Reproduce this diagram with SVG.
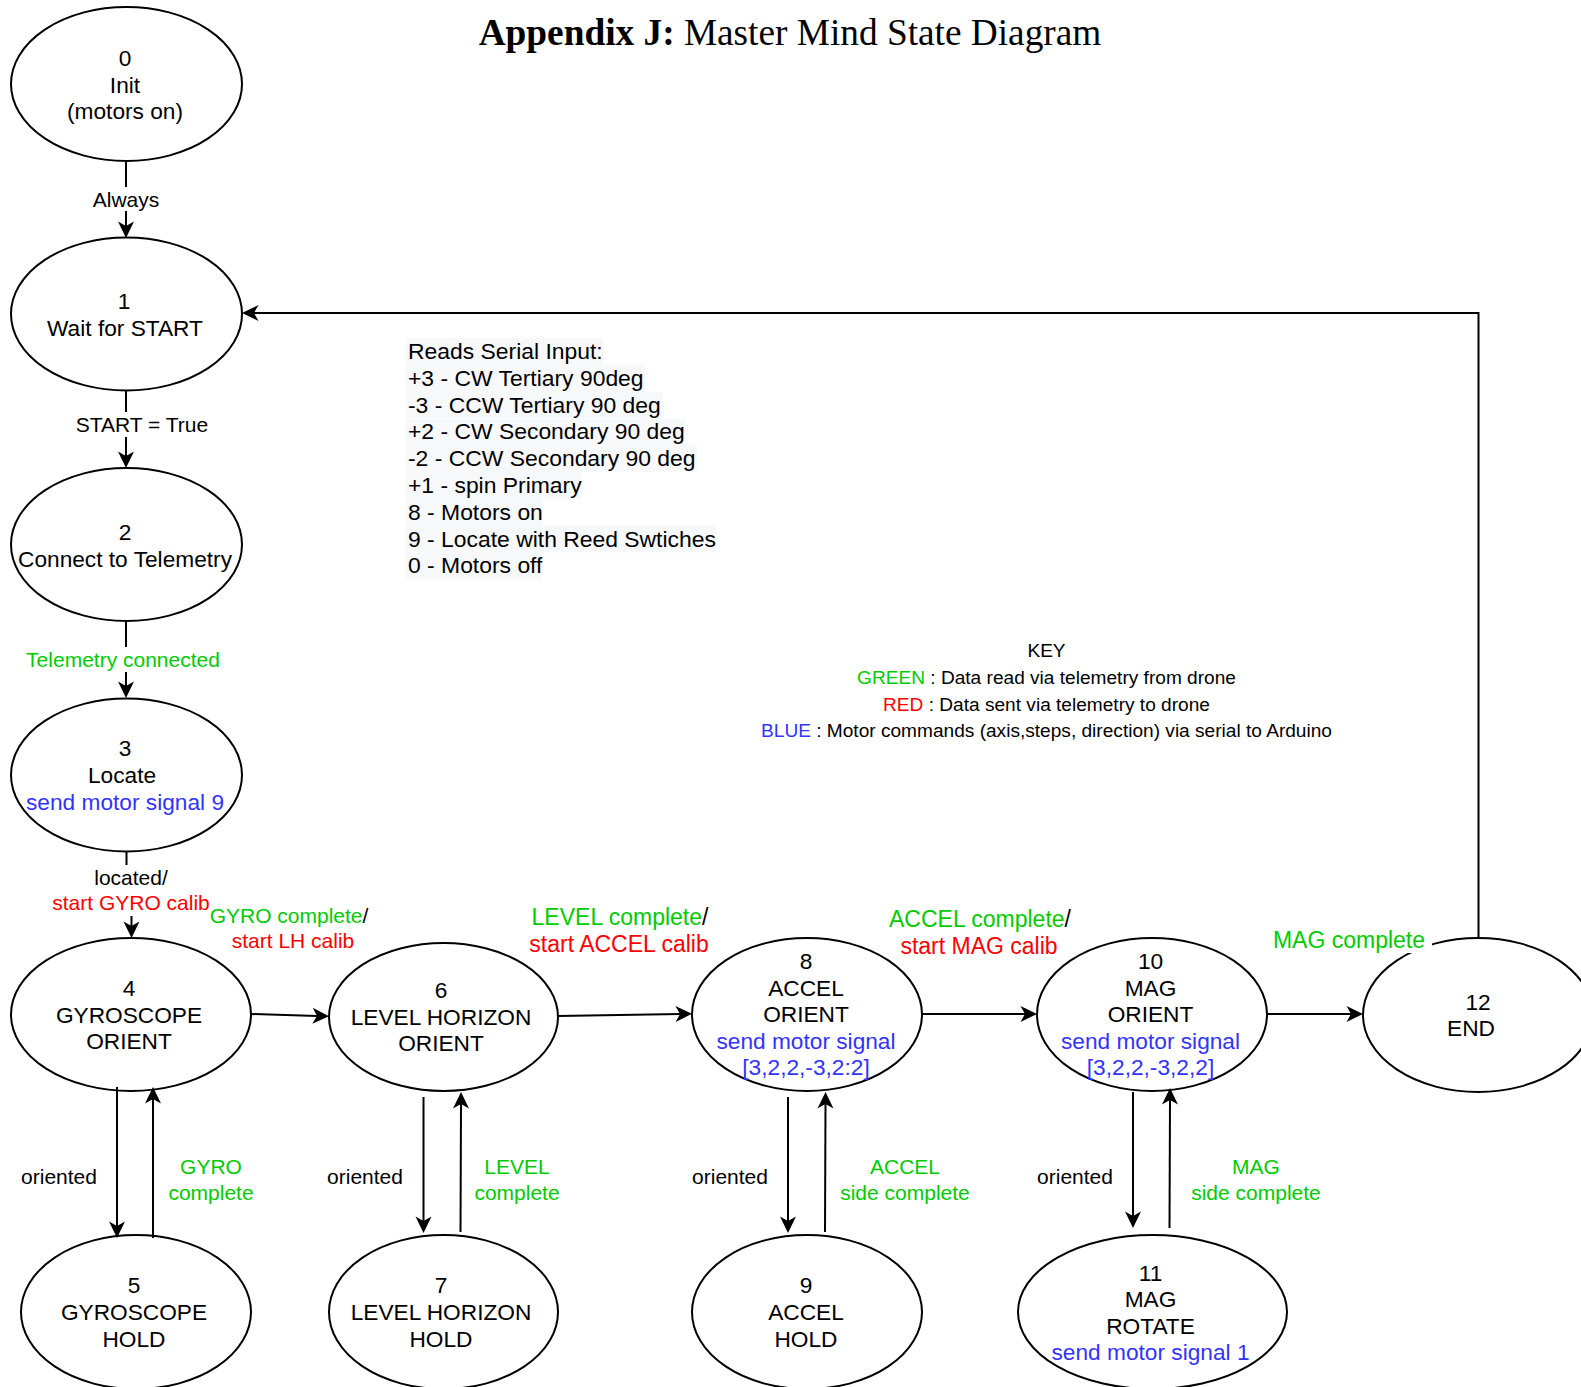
<svg xmlns="http://www.w3.org/2000/svg" width="1581" height="1387" viewBox="0 0 1581 1387">
  <style>
    .node ellipse { fill: #ffffff; stroke: #000000; stroke-width: 2; }
    text { font-family: "Liberation Sans", Arial, Helvetica, sans-serif; }
    .nt { font-size: 22.7px; fill: #000000; text-anchor: middle; }
    .lb { font-size: 21px; fill: #000000; text-anchor: middle; }
    .lb2 { font-size: 23px; fill: #000000; text-anchor: middle; }
    .key { font-size: 19.1px; fill: #000000; text-anchor: middle; }
    .ser { font-size: 22.9px; fill: #000000; }
    .g { fill: #00cc00; }
    .r { fill: #ff0000; }
    .b { fill: #3333ff; }
    .edge { fill: none; stroke: #000000; stroke-width: 2; }
    .arr { marker-end: url(#arrow); }
    .bg { fill: #ffffff; }
    .serbg { fill: #f7f8fa; }
  </style>
  <defs>
    <!-- classic notched arrowhead; the line stops 12px short of the tip -->
    <marker id="arrow" markerUnits="userSpaceOnUse" viewBox="-6 -10 20 20" refX="0" refY="0" markerWidth="20" markerHeight="20" orient="auto">
      <path d="M12,0 L-4.5,-8 L0,0 L-4.5,8 Z" fill="#000000"/>
    </marker>
  </defs>

  <rect width="1581" height="1387" fill="#ffffff"/>

  <!-- title -->
  <text x="790" y="45" text-anchor="middle" style="font-family: 'Liberation Serif', 'Times New Roman', serif; font-size: 37.3px;"><tspan font-weight="bold">Appendix J:</tspan> Master Mind State Diagram</text>

  <!-- serial input command list -->
  <g id="serial-input">
    <rect class="serbg" x="406" y="338" width="197" height="27"/>
    <rect class="serbg" x="406" y="364.8" width="239" height="27"/>
    <rect class="serbg" x="406" y="391.6" width="257" height="27"/>
    <rect class="serbg" x="406" y="418.4" width="279" height="27"/>
    <rect class="serbg" x="406" y="445.2" width="291" height="27"/>
    <rect class="serbg" x="406" y="472" width="176" height="27"/>
    <rect class="serbg" x="406" y="498.8" width="137" height="27"/>
    <rect class="serbg" x="406" y="525.6" width="310" height="27"/>
    <rect class="serbg" x="406" y="552.4" width="136" height="26.6"/>
    <text class="ser" x="408" y="359">Reads Serial Input:</text>
    <text class="ser" x="408" y="385.8">+3 - CW Tertiary 90deg</text>
    <text class="ser" x="408" y="412.6">-3 - CCW Tertiary 90 deg</text>
    <text class="ser" x="408" y="439.4">+2 - CW Secondary 90 deg</text>
    <text class="ser" x="408" y="466.2">-2 - CCW Secondary 90 deg</text>
    <text class="ser" x="408" y="493">+1 - spin Primary</text>
    <text class="ser" x="408" y="519.8">8 - Motors on</text>
    <text class="ser" x="408" y="546.6">9 - Locate with Reed Swtiches</text>
    <text class="ser" x="408" y="573.4">0 - Motors off</text>
  </g>

  <!-- colour key -->
  <g id="key">
    <text class="key" x="1046.5" y="657">KEY</text>
    <text class="key" x="1046.5" y="683.5"><tspan class="g">GREEN</tspan> : Data read via telemetry from drone</text>
    <text class="key" x="1046.5" y="710.5"><tspan class="r">RED</tspan> : Data sent via telemetry to drone</text>
    <text class="key" x="1046.5" y="737"><tspan class="b">BLUE</tspan> : Motor commands (axis,steps, direction) via serial to Arduino</text>
  </g>

  <!-- states -->
  <g id="node-0" class="node">
    <ellipse cx="126.5" cy="84" rx="115.5" ry="77"/>
    <text class="nt" x="125" y="66">0</text>
    <text class="nt" x="125" y="93">Init</text>
    <text class="nt" x="125" y="119">(motors on)</text>
  </g>
  <g id="node-1" class="node">
    <ellipse cx="126.5" cy="314" rx="115.5" ry="76.5"/>
    <text class="nt" x="124" y="308.5">1</text>
    <text class="nt" x="125" y="335.5">Wait for START</text>
  </g>
  <g id="node-2" class="node">
    <ellipse cx="126.5" cy="544.5" rx="115.5" ry="76.5"/>
    <text class="nt" x="125" y="540">2</text>
    <text class="nt" x="125" y="566.5">Connect to Telemetry</text>
  </g>
  <g id="node-3" class="node">
    <ellipse cx="126.5" cy="775" rx="115.5" ry="76.5"/>
    <text class="nt" x="125" y="756">3</text>
    <text class="nt" x="122" y="783">Locate</text>
    <text class="nt b" x="125" y="809.5">send motor signal 9</text>
  </g>
  <g id="node-4" class="node">
    <ellipse cx="131" cy="1014.5" rx="120" ry="76.5"/>
    <text class="nt" x="129" y="996">4</text>
    <text class="nt" x="129" y="1022.5">GYROSCOPE</text>
    <text class="nt" x="129" y="1049">ORIENT</text>
  </g>
  <g id="node-5" class="node">
    <ellipse cx="136" cy="1312" rx="115" ry="77"/>
    <text class="nt" x="134" y="1293">5</text>
    <text class="nt" x="134" y="1320">GYROSCOPE</text>
    <text class="nt" x="134" y="1346.5">HOLD</text>
  </g>
  <g id="node-6" class="node">
    <ellipse cx="443.5" cy="1017" rx="114.5" ry="74"/>
    <text class="nt" x="441" y="998">6</text>
    <text class="nt" x="441" y="1024.5">LEVEL HORIZON</text>
    <text class="nt" x="441" y="1051">ORIENT</text>
  </g>
  <g id="node-7" class="node">
    <ellipse cx="443.5" cy="1312" rx="114.5" ry="77"/>
    <text class="nt" x="441" y="1293">7</text>
    <text class="nt" x="441" y="1320">LEVEL HORIZON</text>
    <text class="nt" x="441" y="1346.5">HOLD</text>
  </g>
  <g id="node-8" class="node">
    <ellipse cx="807" cy="1014.5" rx="115" ry="76.5"/>
    <text class="nt" x="806" y="969">8</text>
    <text class="nt" x="806" y="995.6">ACCEL</text>
    <text class="nt" x="806" y="1022.2">ORIENT</text>
    <text class="nt b" x="806" y="1048.8">send motor signal</text>
    <text class="nt b" x="806" y="1075.4">[3,2,2,-3,2:2]</text>
  </g>
  <g id="node-9" class="node">
    <ellipse cx="807" cy="1312" rx="115" ry="77"/>
    <text class="nt" x="806" y="1293">9</text>
    <text class="nt" x="806" y="1320">ACCEL</text>
    <text class="nt" x="806" y="1346.5">HOLD</text>
  </g>
  <g id="node-10" class="node">
    <ellipse cx="1152" cy="1014.5" rx="115" ry="76.5"/>
    <text class="nt" x="1150.5" y="969">10</text>
    <text class="nt" x="1150.5" y="995.6">MAG</text>
    <text class="nt" x="1150.5" y="1022.2">ORIENT</text>
    <text class="nt b" x="1150.5" y="1048.8">send motor signal</text>
    <text class="nt b" x="1150.5" y="1075.4">[3,2,2,-3,2,2]</text>
  </g>
  <g id="node-11" class="node">
    <ellipse cx="1152.5" cy="1312" rx="134.5" ry="77"/>
    <text class="nt" x="1150.5" y="1280.5">11</text>
    <text class="nt" x="1150.5" y="1307">MAG</text>
    <text class="nt" x="1150.5" y="1333.5">ROTATE</text>
    <text class="nt b" x="1150.5" y="1360">send motor signal 1</text>
  </g>
  <g id="node-12" class="node">
    <ellipse cx="1478" cy="1015" rx="115" ry="77"/>
    <text class="nt" x="1478" y="1010">12</text>
    <text class="nt" x="1471" y="1036">END</text>
  </g>

  <!-- transitions -->
  <g id="connectors">
    <!-- vertical chain 0 -> 1 -> 2 -> 3 -> 4 -->
    <path class="edge arr" d="M126,161 V226"/>
    <rect class="bg" x="92" y="187" width="68" height="24"/>
    <text class="lb" x="126" y="206.5">Always</text>

    <path class="edge arr" d="M126,391 V456"/>
    <rect class="bg" x="74" y="412" width="136" height="25"/>
    <text class="lb" x="142" y="432">START = True</text>

    <path class="edge arr" d="M126,621 V686"/>
    <rect class="bg" x="25" y="647" width="197" height="25"/>
    <text class="lb g" x="123" y="666.5">Telemetry connected</text>

    <path class="edge arr" d="M126.5,852 V890 H131.5 V926"/>
    <rect class="bg" x="52" y="865" width="158" height="51"/>
    <text class="lb" x="131" y="885">located/</text>
    <text class="lb r" x="131" y="909.5">start GYRO calib</text>

    <!-- orient chain 4 -> 6 -> 8 -> 10 -> 12 -->
    <path class="edge arr" d="M251,1014 L317,1016"/>
    <text class="lb" x="289" y="923"><tspan class="g">GYRO complete</tspan>/</text>
    <text class="lb r" x="293" y="947.5">start LH calib</text>

    <path class="edge arr" d="M558,1016 L680,1014"/>
    <text class="lb2" x="620" y="924.5"><tspan class="g">LEVEL complete</tspan>/</text>
    <text class="lb2 r" x="619" y="951.5">start ACCEL calib</text>

    <path class="edge arr" d="M922,1014 H1025"/>
    <text class="lb2" x="980" y="926.5"><tspan class="g">ACCEL complete</tspan>/</text>
    <text class="lb2 r" x="979" y="953.5">start MAG calib</text>

    <path class="edge arr" d="M1267,1014 H1351"/>
    <rect class="bg" x="1269" y="928" width="163" height="25"/>
    <text class="lb2 g" x="1349" y="948">MAG complete</text>

    <!-- return from END to Wait for START -->
    <path class="edge arr" d="M1478.5,938 V313 H254"/>

    <!-- orient / hold pairs -->
    <path class="edge arr" d="M117,1087 L117,1226"/>
    <path class="edge arr" d="M153,1238 L153,1099"/>
    <text class="lb" x="59" y="1184">oriented</text>
    <text class="lb g" x="211" y="1173.5">GYRO</text>
    <text class="lb g" x="211" y="1199.5">complete</text>

    <path class="edge arr" d="M423.5,1097 L423.5,1221"/>
    <path class="edge arr" d="M460.5,1232 L461,1104"/>
    <text class="lb" x="365" y="1184">oriented</text>
    <text class="lb g" x="517" y="1173.5">LEVEL</text>
    <text class="lb g" x="517" y="1199.5">complete</text>

    <path class="edge arr" d="M788,1097 L788,1221"/>
    <path class="edge arr" d="M825,1232 L825.5,1104"/>
    <text class="lb" x="730" y="1184">oriented</text>
    <text class="lb g" x="905" y="1173.5">ACCEL</text>
    <text class="lb g" x="905" y="1199.5">side complete</text>

    <path class="edge arr" d="M1133,1092 L1133,1216"/>
    <path class="edge arr" d="M1169.5,1228 L1170,1100"/>
    <text class="lb" x="1075" y="1184">oriented</text>
    <text class="lb g" x="1256" y="1173.5">MAG</text>
    <text class="lb g" x="1256" y="1199.5">side complete</text>
  </g>
</svg>
